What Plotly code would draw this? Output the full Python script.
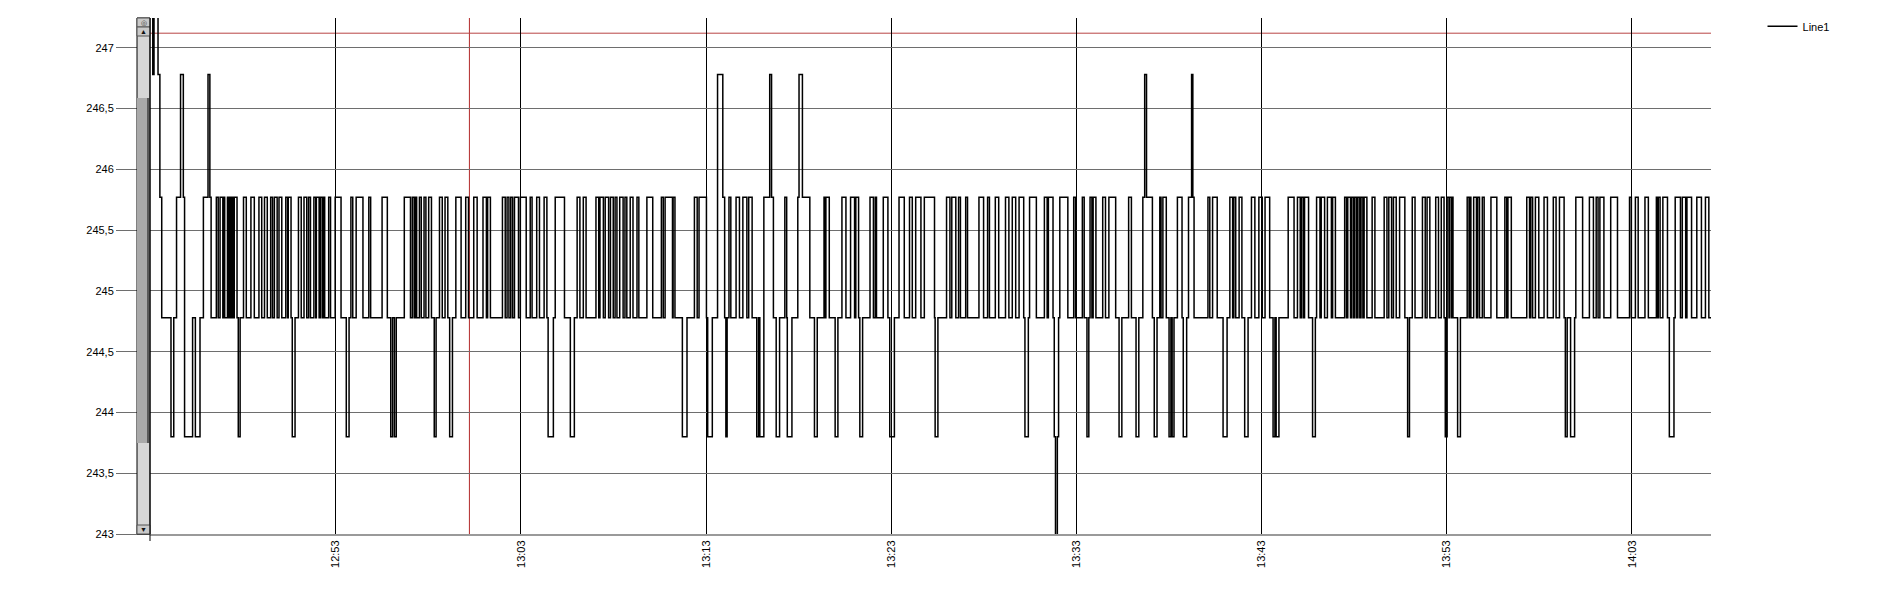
import pandas as pd
import plotly.graph_objects as go

DAY = "2000-01-01"

# signal levels (V)
LEVEL_VALUE = {"X": 247.76, "U": 246.78, "H": 245.77, "L": 244.78, "D": 243.80, "B": 242.82}

# run-length readings: level code + duration in seconds, one list per ~14 min stretch
CHUNK_START = ["12:42:58", "12:57:02", "13:11:09", "13:25:11", "13:39:13", "13:53:16"]
CHUNK_1 = ("X9 U4 X13 U6 H6 L30 D9 L9 H13 U9 H4 D26 L9 D15 L11 H15 U6 H4 L17 H6 L6 H9 L2 H4 "
           "L9 H4 L2 H4 L4 H4 L4 H9 L4 D6 L11 H9 L15 H11 L15 H9 L9 H9 L11 H6 L6 H9 L6 H9 L13 "
           "H6 L2 H9 L4 D9 L11 H9 L9 H9 L6 H6 L11 H6 L2 H9 L4 H6 L4 H4 L13 H6 L15 H19 L17 D9 "
           "L6 H6 L11 H22 L19 H6 L37 H17 L11 D6 L6 D6 L26 H13")
CHUNK_2 = ("L6 H6 L4 H4 L9 H6 L9 H6 L9 H9 L9 D6 L11 H9 L9 H9 L6 D9 L11 H17 L15 H9 L17 H11 L19 "
           "H11 L4 H9 L39 H9 L6 H6 L6 H6 L6 H13 L6 H19 L13 H6 L15 H9 L15 H9 L4 D17 L6 H30 L19 "
           "D13 L9 H9 L11 H9 L32 H9 L4 H11 L6 H11 L6 H9 L6 H6 L9 H11 L6 H6 L11 H9 L13 H6 L26 "
           "H19 L28 H6 L6 H15")
CHUNK_3 = ("H2 L2 H6 L24 D15 L24 H9 L6 H24 L4 D15 L17 U17 H6 L4 D4 L6 H6 L17 H11 L11 H13 L6 "
           "H11 L15 D6 L4 D13 H19 U6 H6 L9 D11 L17 H6 L2 D15 L19 H4 U11 H24 L15 D9 L22 H4 L2 "
           "H11 L19 D9 L13 H13 L15 H13 L4 H9 L4 D9 L24 H11 L6 H4 L22 H15 L6 D15 L15 H17 L17 "
           "H9 L11 H17 L11 H17")
CHUNK_4 = ("H9 L2 D9 L28 H11 L6 H13 L9 H6 L17 H6 L37 H15 L13 H6 L19 H11 L22 H11 L11 H11 L11 "
           "H15 L4 D11 L4 H22 L26 H9 L4 H15 L4 D4 B6 D4 L4 H26 L19 H6 L22 H6 L9 D6 L4 H6 L4 "
           "H9 L22 H9 L11 H22 L11 D9 L22 H9 L15 D9 L13 H6 U6 H19 L6 D9 L9 H4 L6 H11 L9 D6 L4 "
           "D6 L11 H15 L4 D11 L6 H6")
CHUNK_5 = ("U4 H4 L45 H6 L9 H15 L19 D13 L9 H9 L4 H6 L11 H9 L9 D11 L11 H11 L13 H11 L9 H15 L11 "
           "D6 L4 D9 L30 H19 L11 H9 L4 H6 L4 H13 L13 D9 L4 H11 L4 H11 L9 H13 L4 H9 L30 H6 L4 "
           "H9 L4 H6 L4 H6 L4 H6 L4 H6 L4 H9 L17 H9 L30 H9 L6 H9 L6 H9 L11 H17 L9 D6 L9 H9 "
           "L24 H9 L6 H9 L19 H9 L9 H9 L4 D6 H6 L2 H6 L2 H4")
CHUNK_6 = ("H4 L15 D9 L22 H6 L2 H4 L9 H9 L4 H6 L9 H6 L22 H19 L26 H6 L4 H11 L50 H9 L4 H6 L9 "
           "H11 L17 H11 L19 H9 L11 H15 L4 D6 L11 D13 L4 H22 L22 H13 L9 H6 L6 H13 L22 H22 L39 "
           "H6 L13 H9 L22 H11 L26 H4 L2 H6 L9 H15 L6 D15 L4 H17 L6 H11 L4 H15 L17 H15 L13 "
           "H11 L20")
CHUNKS = [CHUNK_1, CHUNK_2, CHUNK_3, CHUNK_4, CHUNK_5, CHUNK_6]

VIEW_START = "12:42:58"
VIEW_END = "14:07:16"
TICK_TIMES = ["12:53", "13:03", "13:13", "13:23", "13:33", "13:43", "13:53", "14:03"]
MARKER_TIME = "13:00:13"     # red cursor line
MARKER_LEVEL = 247.12        # red limit line
Y_MIN, Y_MAX = 243.0, 247.245

xs, ys = [], []
for start, chunk in zip(CHUNK_START, CHUNKS):
    t = pd.Timestamp(f"{DAY} {start}")
    for tok in chunk.split():
        xs.append(t)
        ys.append(LEVEL_VALUE[tok[0]])
        t = t + pd.Timedelta(seconds=int(tok[1:]))
xs.append(pd.Timestamp(f"{DAY} {VIEW_END}"))
ys.append(ys[-1])

fig = go.Figure()
fig.add_trace(go.Scatter(x=xs, y=ys, mode="lines", name="Line1",
                         line=dict(color="black", width=1.5, shape="hv")))

shapes = []
# red cursor / limit lines
shapes.append(dict(type="line", xref="x", yref="paper", x0=f"{DAY} {MARKER_TIME}",
                   x1=f"{DAY} {MARKER_TIME}", y0=0, y1=1,
                   line=dict(color="#b22a2a", width=1), layer="below"))
shapes.append(dict(type="line", xref="paper", yref="y", x0=0, x1=1, y0=MARKER_LEVEL,
                   y1=MARKER_LEVEL, line=dict(color="#b84545", width=1), layer="below"))

# scrollbar decoration on the left
H = 516.0
def py(p):
    return (534.0 - p) / H
def sb_rect(p_top, p_bot, fill, lw=1, col="#000000", x0=-13, x1=0):
    return dict(type="rect", xref="paper", yref="paper", xsizemode="pixel", xanchor=0,
                x0=x0, x1=x1, y0=py(p_bot), y1=py(p_top), fillcolor=fill,
                line=dict(color=col, width=lw), layer="above")
shapes.append(sb_rect(18, 534, "#d6d6d6"))
shapes.append(sb_rect(98, 443, "#a9a9a9", lw=0))
shapes.append(sb_rect(98, 443, "#5a5a5a", lw=0, x0=-3, x1=0))
shapes.append(sb_rect(18, 27, "#c9c9c9", lw=1, col="#555555"))
shapes.append(sb_rect(27, 36, "#c9c9c9", lw=1, col="#555555"))
shapes.append(sb_rect(525, 534, "#c9c9c9", lw=1, col="#555555"))
shapes.append(dict(type="line", xref="paper", yref="paper", x0=0, x1=0, y0=py(541), y1=1,
                   line=dict(color="black", width=1), layer="above"))

annotations = [
    dict(text="▲", xref="paper", yref="paper", x=0, xshift=-6.5, y=py(31.5), showarrow=False,
         font=dict(size=7, color="#111111"), xanchor="center", yanchor="middle"),
    dict(text="▼", xref="paper", yref="paper", x=0, xshift=-6.5, y=py(529.5), showarrow=False,
         font=dict(size=7, color="#111111"), xanchor="center", yanchor="middle"),
    dict(text="◎", xref="paper", yref="paper", x=0, xshift=-6.5, y=py(22.5), showarrow=False,
         font=dict(size=7, color="#333333"), xanchor="center", yanchor="middle"),
]

fig.update_layout(
    width=1903, height=589,
    margin=dict(l=150, r=192, t=18, b=55, pad=0, autoexpand=False),
    paper_bgcolor="white", plot_bgcolor="white",
    separators=",.",
    showlegend=True,
    legend=dict(x=1.033, y=1.012, xanchor="left", yanchor="top", bgcolor="rgba(0,0,0,0)",
                font=dict(family="Liberation Sans, Arial, sans-serif", size=11, color="black")),
    shapes=shapes, annotations=annotations,
    font=dict(family="Liberation Sans, Arial, sans-serif", size=11, color="black"),
)
fig.update_xaxes(
    type="date", range=[f"{DAY} {VIEW_START}", f"{DAY} {VIEW_END}"],
    tickmode="array", tickvals=[f"{DAY} {t}" for t in TICK_TIMES], ticktext=TICK_TIMES,
    tickangle=-90,
    showgrid=True, gridcolor="black", gridwidth=1,
    showline=True, linecolor="#9a9a9a", linewidth=2, ticks="",
    zeroline=False, automargin=False,
    tickfont=dict(family="Liberation Sans Narrow, Liberation Sans, Arial, sans-serif", size=11),
)
fig.update_yaxes(
    range=[Y_MIN, Y_MAX], tick0=243, dtick=0.5,
    showgrid=True, gridcolor="#6e6e6e", gridwidth=1,
    ticks="outside", ticklen=33, tickcolor="#6e6e6e", tickwidth=1,
    showline=False, zeroline=False, automargin=False,
    tickfont=dict(family="Liberation Sans, Arial, sans-serif", size=11),
)

fig.write_html("out.html", config={"displayModeBar": False})

# remove the browser's default 8px page margin so the figure sits at the window origin
with open("out.html", encoding="utf-8") as f:
    html = f.read()
html = html.replace("<head>", "<head><style>html,body{margin:0;padding:0;overflow:hidden;}</style>", 1)
with open("out.html", "w", encoding="utf-8") as f:
    f.write(html)
